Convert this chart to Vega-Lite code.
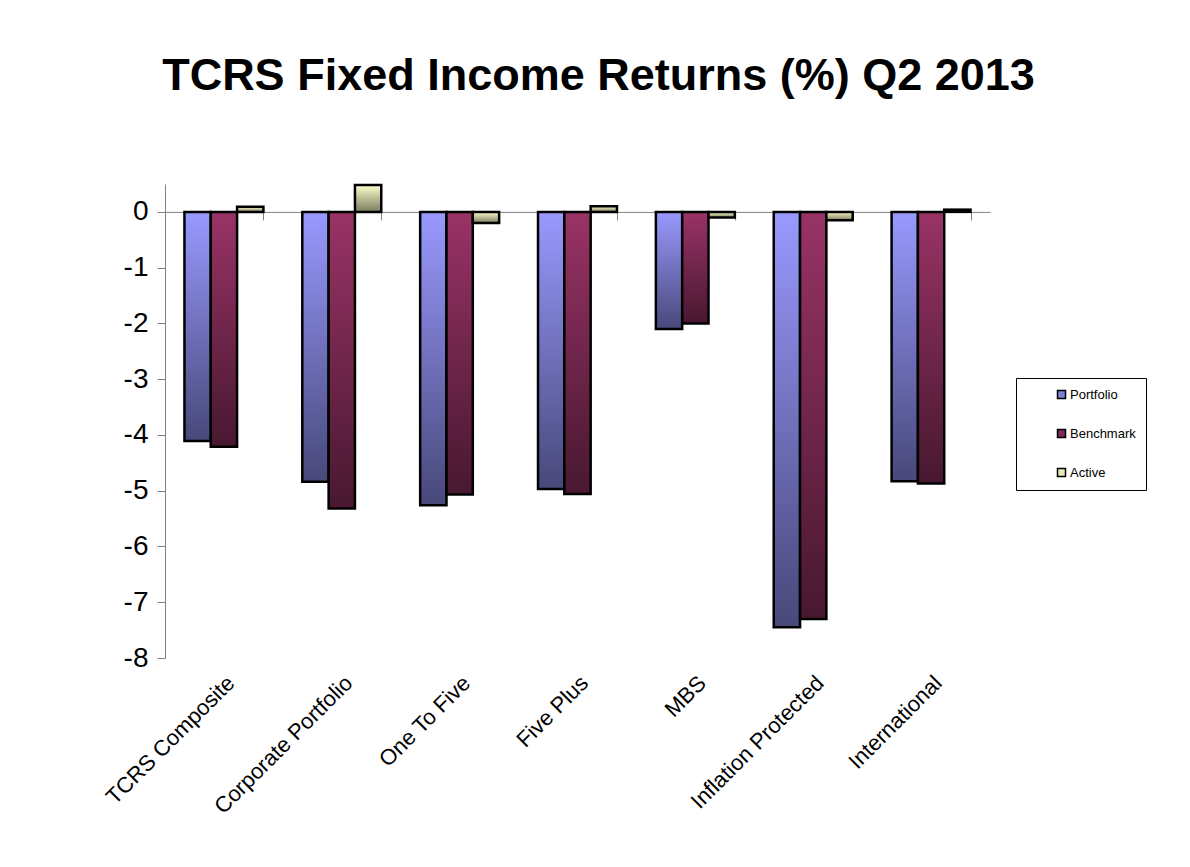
{
  "$schema": "https://vega.github.io/schema/vega-lite/v6.json",
  "width": 825,
  "height": 474,
  "autosize": {"type": "none"},
  "padding": {"left": 165, "top": 184, "right": 200, "bottom": 209},
  "background": "white",
  "title": {
    "text": "TCRS Fixed Income Returns (%) Q2 2013",
    "font": "Liberation Sans",
    "fontSize": 45,
    "fontWeight": "bold",
    "color": "black",
    "anchor": "middle",
    "frame": "group",
    "dx": 21,
    "offset": 80
  },
  "config": {
    "view": {"stroke": null},
    "font": "Liberation Sans"
  },
  "data": {
    "values": [
      {"category": "TCRS Composite", "series": "Portfolio", "value": -4.11},
      {"category": "TCRS Composite", "series": "Benchmark", "value": -4.21},
      {"category": "TCRS Composite", "series": "Active", "value": 0.09},
      {"category": "Corporate Portfolio", "series": "Portfolio", "value": -4.84},
      {"category": "Corporate Portfolio", "series": "Benchmark", "value": -5.32},
      {"category": "Corporate Portfolio", "series": "Active", "value": 0.48},
      {"category": "One To Five", "series": "Portfolio", "value": -5.26},
      {"category": "One To Five", "series": "Benchmark", "value": -5.07},
      {"category": "One To Five", "series": "Active", "value": -0.2},
      {"category": "Five Plus", "series": "Portfolio", "value": -4.97},
      {"category": "Five Plus", "series": "Benchmark", "value": -5.06},
      {"category": "Five Plus", "series": "Active", "value": 0.1},
      {"category": "MBS", "series": "Portfolio", "value": -2.1},
      {"category": "MBS", "series": "Benchmark", "value": -2.0},
      {"category": "MBS", "series": "Active", "value": -0.1},
      {"category": "Inflation Protected", "series": "Portfolio", "value": -7.45},
      {"category": "Inflation Protected", "series": "Benchmark", "value": -7.3},
      {"category": "Inflation Protected", "series": "Active", "value": -0.15},
      {"category": "International", "series": "Portfolio", "value": -4.83},
      {"category": "International", "series": "Benchmark", "value": -4.87},
      {"category": "International", "series": "Active", "value": 0.04}
    ]
  },
  "encoding": {
    "xOffset": {
      "field": "series",
      "type": "nominal",
      "scale": {"domain": ["Portfolio", "Benchmark", "Active"], "paddingInner": 0, "paddingOuter": 0}
    },
    "y": {
      "field": "value",
      "type": "quantitative",
      "scale": {"domain": [-8, 0.5], "nice": false, "zero": false},
      "axis": {
        "title": null,
        "values": [-8, -7, -6, -5, -4, -3, -2, -1, 0],
        "labelExpr": "'' + datum.value",
        "grid": false,
        "tickSize": 8,
        "tickColor": "#808080",
        "domainColor": "#808080",
        "labelFont": "Liberation Sans",
        "labelFontSize": 28,
        "labelColor": "black",
        "labelPadding": 9
      }
    }
  },
  "resolve": {"axis": {"x": "independent"}},
  "layer": [
    {
      "mark": {"type": "text", "text": ""},
      "encoding": {
        "x": {
          "field": "category",
          "type": "nominal",
          "sort": null,
          "scale": {"paddingInner": 0.33, "paddingOuter": 0.165},
          "axis": {
            "orient": "top",
            "offset": -27.9,
            "title": null,
            "labels": false,
            "tickBand": "extent",
            "tickSize": -8,
            "tickColor": "#808080",
            "tickWidth": 1,
            "domainColor": "#808080",
            "domainWidth": 1
          }
        }
      }
    },
    {
      "transform": [{"filter": "datum.series === 'Portfolio'"}],
      "mark": {
        "type": "bar",
        "stroke": "black",
        "strokeWidth": 2.5,
        "fill": {"gradient": "linear", "x1": 0, "y1": 0, "x2": 0, "y2": 1, "stops": [{"offset": 0, "color": "#9999ff"}, {"offset": 1, "color": "#48487a"}]}
      },
      "encoding": {
        "x": {
          "field": "category",
          "type": "nominal",
          "sort": null,
          "axis": {
            "orient": "bottom",
            "title": null,
            "domain": false,
            "ticks": false,
            "labelAngle": -45,
            "labelLimit": 0,
            "labelFont": "Liberation Sans",
            "labelFontSize": 22,
            "labelColor": "black",
            "labelPadding": 14
          }
        }
      }
    },
    {
      "transform": [{"filter": "datum.series === 'Benchmark'"}],
      "mark": {
        "type": "bar",
        "stroke": "black",
        "strokeWidth": 2.5,
        "fill": {"gradient": "linear", "x1": 0, "y1": 0, "x2": 0, "y2": 1, "stops": [{"offset": 0, "color": "#993366"}, {"offset": 1, "color": "#481830"}]}
      },
      "encoding": {
        "x": {"field": "category", "type": "nominal", "sort": null, "axis": null}
      }
    },
    {
      "transform": [{"filter": "datum.series === 'Active'"}],
      "mark": {
        "type": "bar",
        "stroke": "black",
        "strokeWidth": 2.5,
        "fill": {"gradient": "linear", "x1": 0, "y1": 0, "x2": 0, "y2": 1, "stops": [{"offset": 0, "color": "#ffffcc"}, {"offset": 1, "color": "#7a7a60"}]}
      },
      "encoding": {
        "x": {"field": "category", "type": "nominal", "sort": null, "axis": null}
      }
    },
    {
      "mark": {"type": "point", "shape": "square", "filled": true, "opacity": 0},
      "encoding": {
        "x": {"field": "category", "type": "nominal", "sort": null, "axis": null},
        "color": {
          "field": "series",
          "type": "nominal",
          "scale": {
            "domain": ["Portfolio", "Benchmark", "Active"],
            "range": ["#8080d8", "#7a2a55", "#e6e6b8"]
          },
          "legend": {
            "title": null,
            "orient": "none",
            "legendX": 851,
            "legendY": 194,
            "strokeColor": "black",
            "fillColor": "white",
            "padding": 10,
            "symbolOffset": 29,
            "symbolType": "square",
            "symbolSize": 64,
            "symbolOpacity": 1,
            "symbolStrokeColor": "black",
            "symbolStrokeWidth": 1.5,
            "labelFont": "Liberation Sans",
            "labelFontSize": 13,
            "labelColor": "black",
            "labelOffset": 2,
            "rowPadding": 24
          }
        }
      }
    }
  ]
}
